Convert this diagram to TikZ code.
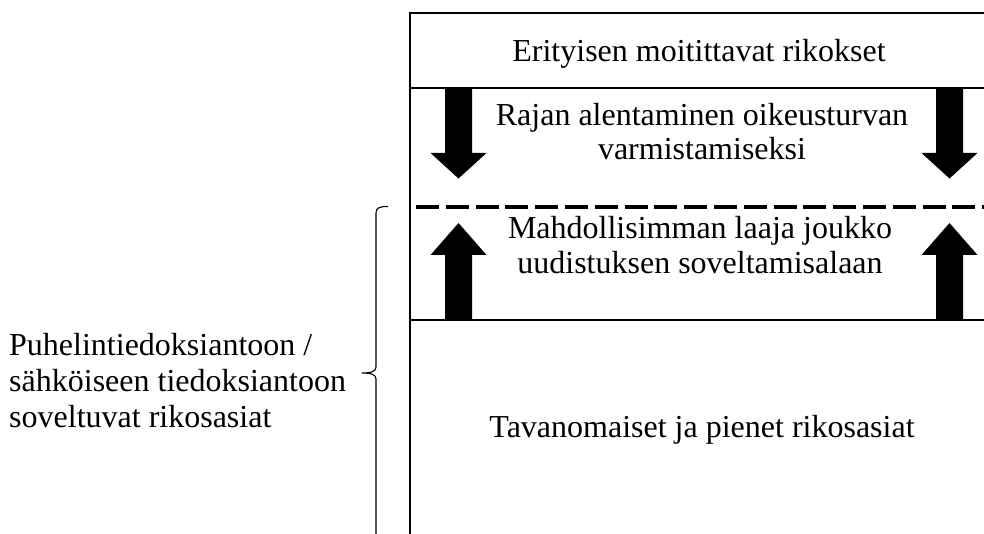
\documentclass[tikz,border=0pt]{standalone}
\usepackage{fontspec}
\setmainfont{Liberation Serif}
\begin{document}
\begin{tikzpicture}[x=1pt,y=-1pt,
  txt/.style={inner sep=0pt,anchor=base,font=\fontsize{32}{36}\selectfont},
  frame/.style={line width=2.2pt},
  blockarrow/.style={fill=black,draw=none},
  dashline/.style={line width=4.8pt,dash pattern=on 23pt off 6.8pt},
  bracestyle/.style={line width=1.1pt}]
\useasboundingbox (0,0) rectangle (984,534);
\begin{scope}
\clip (0,0) rectangle (984,534);
% frame
\coordinate (tl) at (410,13);
\coordinate (tr) at (995,13);
\coordinate (bl) at (410,545);
\draw[frame] (tr) -- (tl) -- (bl);
\coordinate (l1a) at (410,88);  \coordinate (l1b) at (995,88);
\coordinate (l3a) at (410,320); \coordinate (l3b) at (995,320);
\draw[frame] (l1a) -- (l1b);
\draw[frame] (l3a) -- (l3b);
\coordinate (d1) at (416,207); \coordinate (d2) at (995,207);
\draw[dashline] (d1) -- (d2);
% arrows down
\fill[blockarrow] (445,88) -- (472,88) -- (472,153) -- (486.5,153) -- (458.5,178.5) -- (430.5,153) -- (445,153) -- cycle;
\fill[blockarrow] (936,88) -- (963,88) -- (963,153) -- (977.5,153) -- (949.5,178.5) -- (921.5,153) -- (936,153) -- cycle;
% arrows up
\fill[blockarrow] (445,320) -- (472,320) -- (472,255) -- (486.5,255) -- (458.5,223) -- (430.5,255) -- (445,255) -- cycle;
\fill[blockarrow] (936,320) -- (963,320) -- (963,255) -- (977.5,255) -- (949.5,223) -- (921.5,255) -- (936,255) -- cycle;
% brace
\coordinate (bt) at (388,206.5);
\coordinate (bm) at (362,373);
\coordinate (bb) at (376,545);
\draw[bracestyle] (bt) .. controls (380,206.5) and (376,207.5) .. (376,213)
  -- (376,367) .. controls (376,371.5) and (371,373) .. (bm)
  .. controls (371,373) and (376,374.5) .. (376,379) -- (bb);
\end{scope}
% texts
\node[txt] (t1) at (699,62) {Erityisen moitittavat rikokset};
\node[txt] (t2a) at (702,125.5) {Rajan alentaminen oikeusturvan};
\node[txt] (t2b) at (702,160) {varmistamiseksi};
\node[txt] (t3a) at (700,238.5) {Mahdollisimman laaja joukko};
\node[txt] (t3b) at (700,273.5) {uudistuksen soveltamisalaan};
\node[txt] (t4) at (702,437) {Tavanomaiset ja pienet rikosasiat};
\node[txt,anchor=base west] (s1) at (9,355) {Puhelintiedoksiantoon /};
\node[txt,anchor=base west] (s2) at (9,391.5) {sähköiseen tiedoksiantoon};
\node[txt,anchor=base west] (s3) at (9,427.5) {soveltuvat rikosasiat};
\end{tikzpicture}
\end{document}
